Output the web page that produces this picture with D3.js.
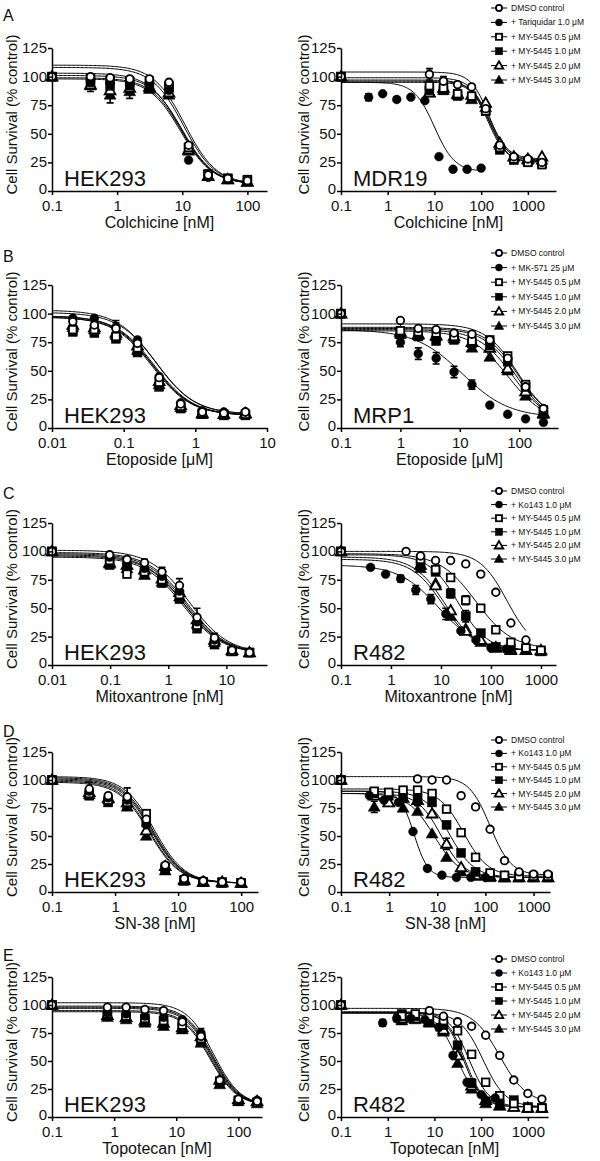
<!DOCTYPE html>
<html>
<head>
<meta charset="utf-8">
<script src="https://cdn.jsdelivr.net/npm/d3@7"></script>
<style>
  body { margin: 0; background: #fff; }
  svg { display: block; font-family: "Liberation Sans", Arial, sans-serif; }
</style>
</head>
<body>
<svg id="fig" width="600" height="1161"></svg>
<script>
// ---------------- data ----------------
const rowLetters = ['A', 'B', 'C', 'D', 'E']
const drugLabels = ['Colchicine [nM]', 'Etoposide [μM]', 'Mitoxantrone [nM]', 'SN-38 [nM]', 'Topotecan [nM]']
const rightCells = ['MDR19', 'MRP1', 'R482', 'R482', 'R482']
const inhibitorLabels = ['+ Tariquidar 1.0 μM', '+ MK-571 25 μM', '+ Ko143 1.0 μM', '+ Ko143 1.0 μM', '+ Ko143 1.0 μM']
const myLabels = ['+ MY-5445 0.5 μM', '+ MY-5445 1.0 μM', '+ MY-5445 2.0 μM', '+ MY-5445 3.0 μM']
const yTicks = [0, 25, 50, 75, 100, 125]

// series order: DMSO, inhibitor, MY 0.5, MY 1.0, MY 2.0, MY 3.0
// fits: [top, bottom, EC50, hill]

// A left – HEK293 / colchicine
const aLeftConc = [0.1, 0.39, 0.78, 1.56, 3.13, 6.25, 12.5, 25, 50, 100]
const aLeftVals = [
  [100, 100, 99, 98, 98, 95, 40, 14, 11, 9],
  [100, 97, 95, 93, 95, 88, 27, 12, 10, 9],
  [100, 98, 97, 96, 96, 92, 38, 15, 11, 10],
  [100, 95, 92, 92, 92, 90, 38, 14, 11, 9],
  [100, 93, 88, 90, 91, 86, 36, 13, 10, 8],
  [100, 92, 84, 87, 89, 84, 35, 13, 10, 8]
]
const aLeftFits = [[108, 6, 10.5, 1.8], [103, 6, 9.5, 1.8], [110, 6, 11, 1.8], [101, 6, 10, 1.8], [99, 6, 9.8, 1.8], [98, 6, 9.5, 1.8]]
const aLeftErr = [[5, 1, 5], [5, 2, 7], [5, 3, 6], [4, 2, 5]]

// A right – MDR19 / colchicine
const aRightConc = [
  [0.1, 7.8, 15.6, 31.3, 62.5, 125, 250, 500, 1000, 2000],
  [0.1, 0.39, 0.78, 1.56, 3.13, 6.25, 12.5, 25, 50, 100],
  [0.1, 7.8, 15.6, 31.3, 62.5, 125, 250, 500, 1000, 2000],
  [0.1, 7.8, 15.6, 31.3, 62.5, 125, 250, 500, 1000, 2000],
  [0.1, 7.8, 15.6, 31.3, 62.5, 125, 250, 500, 1000, 2000],
  [0.1, 7.8, 15.6, 31.3, 62.5, 125, 250, 500, 1000, 2000]
]
const aRightVals = [
  [100, 102, 96, 93, 91, 72, 40, 30, 28, 25],
  [100, 82, 85, 80, 82, 79, 30, 19, 19, 20],
  [100, 92, 90, 85, 83, 70, 38, 28, 25, 23],
  [100, 88, 88, 83, 81, 70, 36, 27, 26, 24],
  [100, 86, 90, 85, 84, 77, 42, 30, 28, 30],
  [100, 86, 88, 84, 80, 73, 40, 30, 27, 27]
]
const aRightFits = [[104, 26, 150, 2.2], [95, 17, 10, 2], [99, 25, 145, 2.2], [97, 25, 140, 2.2], [96, 28, 155, 2.2], [95, 27, 150, 2.2]]
const aRightErr = [[0, 1, 5], [0, 2, 4], [1, 1, 3]]

// B left – HEK293 / etoposide
const bLeftConc = [0.0195, 0.039, 0.078, 0.156, 0.313, 0.625, 1.25, 2.5, 5]
const bLeftVals = [
  [93, 90, 87, 74, 44, 21, 14, 13, 14],
  [96, 96, 88, 77, 45, 22, 15, 14, 14],
  [86, 86, 80, 70, 40, 19, 13, 12, 12],
  [84, 83, 78, 66, 36, 17, 12, 11, 11],
  [90, 88, 83, 72, 41, 20, 13, 12, 13],
  [88, 86, 81, 68, 38, 18, 12, 12, 12]
]
const bLeftFits = [[103, 12, 0.28, 1.6], [101, 12, 0.29, 1.6], [98, 11, 0.26, 1.6], [97, 11, 0.25, 1.6], [98, 11, 0.27, 1.6], [97, 11, 0.26, 1.6]]
const bLeftErr = [[0, 2, 5], [1, 2, 6], [2, 3, 5]]

// B right – MRP1 / etoposide
const bRightConc = [0.1, 1, 2, 4, 8, 16, 32, 64, 128, 256]
const bRightVals = [
  [100, 94, 87, 86, 83, 82, 77, 61, 36, 17],
  [100, 75, 65, 61, 49, 38, 20, 12, 8, 5],
  [100, 85, 84, 83, 80, 76, 77, 63, 38, 16],
  [100, 82, 80, 76, 77, 74, 72, 58, 36, 14],
  [100, 84, 82, 81, 80, 75, 70, 52, 32, 13],
  [100, 82, 81, 80, 78, 70, 62, 50, 28, 12]
]
const bRightFits = [[91, 5, 95, 1.6], [86, 9, 11, 1.1], [88, 5, 95, 1.6], [87, 5, 88, 1.6], [86, 5, 78, 1.5], [85, 5, 65, 1.4]]
const bRightErr = [[1, 1, 4], [1, 2, 5], [1, 3, 5], [1, 4, 5], [1, 5, 4]]

// C left – HEK293 / mitoxantrone
const cLeftConc = [0.01, 0.098, 0.195, 0.39, 0.78, 1.56, 3.13, 6.25, 12.5, 25]
const cLeftVals = [
  [100, 97, 93, 90, 82, 70, 42, 24, 13, 11],
  [100, 95, 90, 85, 78, 65, 38, 22, 13, 11],
  [100, 92, 80, 82, 75, 62, 35, 20, 12, 11],
  [100, 88, 86, 80, 72, 58, 32, 18, 12, 11],
  [100, 90, 88, 84, 76, 64, 40, 22, 13, 11],
  [100, 89, 85, 79, 73, 60, 36, 20, 12, 11]
]
const cLeftFits = [[101, 10, 2.3, 1.3], [99, 10, 2.1, 1.3], [97, 10, 1.9, 1.3], [95, 10, 1.8, 1.3], [98, 10, 2.0, 1.3], [96, 10, 1.9, 1.3]]
const cLeftErr = [[0, 3, 3], [0, 4, 4], [0, 5, 6], [0, 6, 8], [0, 7, 4]]

// C right – R482 / mitoxantrone
const cRightConc = [
  [0.1, 2, 3.9, 7.8, 15.6, 31.3, 62.5, 125, 250, 500],
  [0.1, 0.39, 0.78, 1.56, 3.13, 6.25, 12.5, 25, 50, 100, 200],
  [0.1, 3.9, 7.8, 15.6, 31.3, 62.5, 125, 250, 500, 1000],
  [0.1, 3.9, 7.8, 15.6, 31.3, 62.5, 125, 250, 500, 1000],
  [0.1, 3.9, 7.8, 15.6, 31.3, 62.5, 125, 250, 500, 1000],
  [0.1, 3.9, 7.8, 15.6, 31.3, 62.5, 125, 250, 500, 1000]
]
const cRightVals = [
  [100, 100, 96, 92, 92, 89, 80, 64, 37, 22],
  [100, 86, 80, 76, 66, 58, 45, 30, 22, 15, 14],
  [100, 93, 84, 77, 57, 50, 31, 20, 15, 13],
  [100, 88, 82, 63, 43, 28, 16, 14, 13, 12],
  [100, 88, 70, 48, 30, 22, 15, 13, 13, 13],
  [100, 85, 72, 43, 32, 20, 16, 14, 13, 12]
]
const cRightFits = [[100, 13, 210, 1.6], [88, 13, 9, 1.1], [98, 14, 50, 1.2], [97, 13, 22, 1.5], [95, 13, 12, 1.4], [93, 13, 11, 1.4]]
const cRightErr = [[1, 3, 3], [1, 4, 4], [1, 5, 4], [1, 6, 5], [2, 4, 4], [3, 3, 4], [3, 4, 5]]

// D left – HEK293 / SN-38
const dLeftConc = [0.1, 0.39, 0.78, 1.56, 3.13, 6.25, 12.5, 25, 50, 100]
const dLeftVals = [
  [100, 92, 86, 85, 65, 24, 12, 10, 9, 9],
  [100, 90, 84, 82, 60, 22, 11, 10, 9, 8],
  [100, 88, 82, 80, 70, 22, 11, 9, 9, 8],
  [100, 86, 80, 78, 62, 20, 10, 9, 8, 8],
  [100, 89, 84, 80, 55, 23, 11, 9, 9, 8],
  [100, 87, 83, 76, 50, 19, 10, 9, 8, 8]
]
const dLeftFits = [[103, 8, 4.2, 1.8], [102, 8, 4.0, 1.8], [101, 8, 3.9, 1.8], [99, 8, 3.6, 1.8], [100, 8, 3.8, 1.8], [98, 8, 3.5, 1.8]]
const dLeftErr = [[0, 1, 6], [0, 3, 8], [1, 4, 5]]

// D right – R482 / SN-38
const dRightConc = [
  [0.1, 3.9, 7.8, 15.6, 31.3, 62.5, 125, 250, 500, 1000, 2000],
  [0.1, 0.39, 0.78, 1.56, 3.13, 6.25, 12.5, 25, 50, 100],
  [0.1, 0.49, 0.98, 1.95, 3.9, 7.8, 15.6, 31.3, 62.5, 125, 250, 500, 1000, 2000],
  [0.1, 0.49, 0.98, 1.95, 3.9, 7.8, 15.6, 31.3, 62.5, 125, 250, 500, 1000, 2000],
  [0.1, 0.49, 0.98, 1.95, 3.9, 7.8, 15.6, 31.3, 62.5, 125, 250, 500, 1000, 2000],
  [0.1, 0.49, 0.98, 1.95, 3.9, 7.8, 15.6, 31.3, 62.5, 125, 250, 500, 1000, 2000]
]
const dRightVals = [
  [100, 101, 100, 100, 86, 76, 56, 28, 18, 16, 16],
  [100, 86, 82, 80, 54, 21, 15, 13, 13, 13],
  [100, 90, 89, 91, 91, 88, 74, 53, 31, 17, 15, 14, 14, 14],
  [100, 88, 86, 85, 83, 80, 60, 35, 18, 14, 13, 13, 13, 13],
  [100, 86, 80, 84, 82, 70, 43, 22, 15, 14, 13, 13, 13, 13],
  [100, 76, 80, 75, 72, 52, 31, 18, 14, 13, 13, 13, 13, 13]
]
const dRightFits = [[103, 15, 125, 2], [90, 13, 3.3, 3], [92, 14, 35, 1.7], [90, 13, 18, 1.7], [88, 13, 12, 1.8], [88, 13, 8.5, 1.6]]
const dRightErr = [[3, 3, 5], [3, 4, 6], [4, 6, 5], [5, 1, 5]]

// E left – HEK293 / topotecan
const eLeftConc = [0.1, 0.78, 1.56, 3.13, 6.25, 12.5, 25, 50, 100, 200]
const eLeftVals = [
  [100, 98, 98, 96, 95, 85, 72, 33, 16, 14],
  [100, 93, 92, 90, 89, 87, 75, 31, 14, 15],
  [100, 92, 90, 88, 86, 82, 70, 32, 15, 13],
  [100, 90, 88, 85, 83, 80, 68, 30, 14, 13],
  [100, 91, 89, 86, 84, 80, 72, 33, 16, 14],
  [100, 89, 87, 84, 81, 78, 66, 29, 14, 12]
]
const eLeftFits = [[102, 10, 40, 2], [99, 10, 39, 2], [97, 10, 37, 2], [95, 10, 36, 2], [98, 10, 38, 2], [94, 10, 35, 2]]
const eLeftErr = [[1, 6, 4], [3, 3, 3]]

// E right – R482 / topotecan
const eRightConc = [
  [0.1, 7.8, 15.6, 31.3, 62.5, 125, 250, 500, 1000, 2000],
  [0.1, 0.78, 1.56, 3.13, 6.25, 12.5, 25, 50, 100, 200],
  [0.1, 2, 3.9, 7.8, 15.6, 31.3, 62.5, 125, 250, 500, 1000, 2000],
  [0.1, 2, 3.9, 7.8, 15.6, 31.3, 62.5, 125, 250, 500, 1000, 2000],
  [0.1, 2, 3.9, 7.8, 15.6, 31.3, 62.5, 125, 250, 500, 1000, 2000],
  [0.1, 2, 3.9, 7.8, 15.6, 31.3, 62.5, 125, 250, 500, 1000, 2000]
]
const eRightVals = [
  [100, 95, 90, 85, 81, 73, 55, 33, 21, 16],
  [100, 84, 88, 88, 87, 80, 55, 31, 20, 17],
  [100, 90, 92, 90, 86, 77, 56, 31, 19, 12, 8, 8],
  [100, 92, 90, 86, 82, 64, 30, 14, 11, 15, 9, 8],
  [100, 88, 88, 85, 78, 55, 28, 15, 10, 9, 8, 8],
  [100, 86, 87, 84, 76, 48, 25, 12, 10, 9, 8, 8]
]
const eRightFits = [[97, 12, 250, 1.5], [93, 12, 30, 2], [93, 9, 110, 1.8], [94, 9, 55, 2], [93, 9, 45, 2.2], [93, 9, 42, 2.2]]
const eRightErr = [[1, 1, 3], [1, 2, 3], [1, 5, 3], [3, 6, 4]]

const leftTicks = [[0.1, 1, 10, 100], [0.01, 0.1, 1, 10], [0.01, 0.1, 1, 10], [0.1, 1, 10, 100], [0.1, 1, 10, 100]]
const rightTicks = [[0.1, 1, 10, 100, 1000], [0.1, 1, 10, 100], [0.1, 1, 10, 100, 1000], [0.1, 1, 10, 100, 1000], [0.1, 1, 10, 100, 1000]]

// ---------------- layout ----------------
const rowY = [[48, 191], [285, 428], [523, 665], [752, 892], [977, 1117]] // y of 125 and of 0
const letterY = [21, 262, 499, 737, 961]
const titleOff = [37, 37, 37, 37, 37]
const legendTop = [8, 253, 491, 740, 959]
const legendStep = [14.4, 14.6, 13.6, 13.4, 14]
const leftDom = [[0.1, 200], [0.01, 10], [0.01, 50], [0.1, 185], [0.1, 240]]
const leftEnd = [267, 267, 267, 258, 262]
const rightDom = [[0.1, 4000], [0.1, 450], [0.1, 2000], [0.1, 2200], [0.1, 2700]]
const rightEnd = [556, 558, 556, 550, 548]

const styles = ['circleOpen', 'circleFilled', 'squareOpen', 'squareFilled', 'triOpen', 'triFilled']

const panels = [
  [aLeftConc, aLeftVals, aLeftFits, aLeftErr, aRightConc, aRightVals, aRightFits, aRightErr],
  [bLeftConc, bLeftVals, bLeftFits, bLeftErr, bRightConc, bRightVals, bRightFits, bRightErr],
  [cLeftConc, cLeftVals, cLeftFits, cLeftErr, cRightConc, cRightVals, cRightFits, cRightErr],
  [dLeftConc, dLeftVals, dLeftFits, dLeftErr, dRightConc, dRightVals, dRightFits, dRightErr],
  [eLeftConc, eLeftVals, eLeftFits, eLeftErr, eRightConc, eRightVals, eRightFits, eRightErr]
]

const svg = d3.select('#fig')
const FONT = '"Liberation Sans", Arial, sans-serif'

const logistic = (c, f) => f[1] + (f[0] - f[1]) / (1 + Math.pow(c / f[2], f[3]))

function drawMarker (sel, style, cx, cy, k) {
  const filled = style.endsWith('Filled')
  let node
  if (style.startsWith('circle')) {
    node = sel.append('circle').attr('cx', cx).attr('cy', cy).attr('r', (filled ? 4.4 : 3.8) * k)
  } else if (style.startsWith('square')) {
    const s = (filled ? 9 : 7.6) * k
    node = sel.append('rect').attr('x', cx - s / 2).attr('y', cy - s / 2).attr('width', s).attr('height', s)
  } else {
    node = sel.append('path')
      .attr('d', d3.symbol().type(d3.symbolTriangle).size((filled ? 62 : 50) * k * k)())
      .attr('transform', `translate(${cx},${cy + 0.8 * k})`)
  }
  node.attr('fill', filled ? '#000' : '#fff').attr('stroke', '#000').attr('stroke-width', filled ? 0.5 : 1.8)
}

function drawPanel (row, side) {
  const data = panels[row]
  const conc = data[side * 4]
  const vals = data[side * 4 + 1]
  const fits = data[side * 4 + 2]
  const errs = data[side * 4 + 3]
  const concOf = s => Array.isArray(conc[0]) ? conc[s] : conc
  const [yTop, yBot] = rowY[row]
  const x0 = side ? 341 : 52
  const dom = side ? rightDom[row] : leftDom[row]
  const x1 = side ? rightEnd[row] : leftEnd[row]
  const x = d3.scaleLog().domain(dom).range([x0, x1])
  const y = d3.scaleLinear().domain([0, 125]).range([yBot, yTop])
  const g = svg.append('g')

  // fitted curves
  fits.forEach((f, s) => {
    const xmax = d3.max(concOf(s))
    const samples = d3.range(0, 151).map(i => dom[0] * Math.pow(xmax / dom[0], i / 150))
    const line = d3.line().x(c => x(c)).y(c => y(logistic(c, f)))
    g.append('path').attr('d', line(samples))
      .attr('fill', 'none').attr('stroke', '#000').attr('stroke-width', 1)
  })

  // error bars
  errs.forEach(([s, i, sd]) => {
    const cx = x(concOf(s)[i])
    const v = vals[s][i]
    g.append('path')
      .attr('d', `M${cx},${y(v - sd)}V${y(v + sd)}M${cx - 3.5},${y(v + sd)}H${cx + 3.5}M${cx - 3.5},${y(v - sd)}H${cx + 3.5}`)
      .attr('stroke', '#000').attr('stroke-width', 1.6).attr('fill', 'none')
  })

  // points, DMSO drawn last so it stays on top
  d3.range(5, -1, -1).forEach(s => {
    concOf(s).forEach((c, i) => drawMarker(g, styles[s], x(c), y(vals[s][i]), 1))
  })

  // axes
  const ax = g.append('g').attr('transform', `translate(0,${yBot})`)
    .call(d3.axisBottom(x).tickValues(side ? rightTicks[row] : leftTicks[row]).tickFormat(d => String(d))
      .tickSize(4).tickSizeOuter(0).tickPadding(5))
  const ay = g.append('g').attr('transform', `translate(${x0},0)`)
    .call(d3.axisLeft(y).tickValues(yTicks).tickSize(4).tickSizeOuter(0).tickPadding(1))
  ;[ax, ay].forEach(a => {
    a.attr('font-family', FONT).attr('font-size', 15)
    a.selectAll('path, line').attr('stroke', '#000').attr('stroke-width', 1.5)
    a.selectAll('text').attr('fill', '#111')
  })
  ay.selectAll('text').attr('dy', d => d === 0 ? '0.15em' : '0.3em')

  // titles
  g.append('text').attr('x', (x0 + x1) / 2).attr('y', yBot + titleOff[row])
    .attr('text-anchor', 'middle').attr('font-size', 16).attr('fill', '#111').text(drugLabels[row])
  g.append('text').attr('transform', `translate(${side ? 309 : 17},${(yTop + yBot) / 2 - 5}) rotate(-90)`)
    .attr('text-anchor', 'middle').attr('font-size', 15).attr('fill', '#111').text('Cell Survival (% control)')
  g.append('text').attr('x', x0 + 12).attr('y', yBot - 5)
    .attr('font-size', 22).attr('fill', '#111').text(side ? rightCells[row] : 'HEK293')

  if (!side) {
    g.append('text').attr('x', 3).attr('y', letterY[row]).attr('font-size', 16).attr('fill', '#111').text(rowLetters[row])
    return
  }

  // legend
  const labels = ['DMSO control', inhibitorLabels[row]].concat(myLabels)
  labels.forEach((t, s) => {
    const ly = legendTop[row] + s * legendStep[row]
    const lg = g.append('g')
    lg.append('line').attr('x1', 491).attr('x2', 507).attr('y1', ly).attr('y2', ly)
      .attr('stroke', '#000').attr('stroke-width', 1)
    drawMarker(lg, styles[s], 499, ly, 0.8)
    lg.append('text').attr('x', 511).attr('y', ly).attr('dy', '0.35em')
      .attr('font-size', 8.5).attr('fill', '#111').text(t)
  })
}

for (let r = 0; r < 5; r++) {
  drawPanel(r, 0)
  drawPanel(r, 1)
}
</script>
</body>
</html>
